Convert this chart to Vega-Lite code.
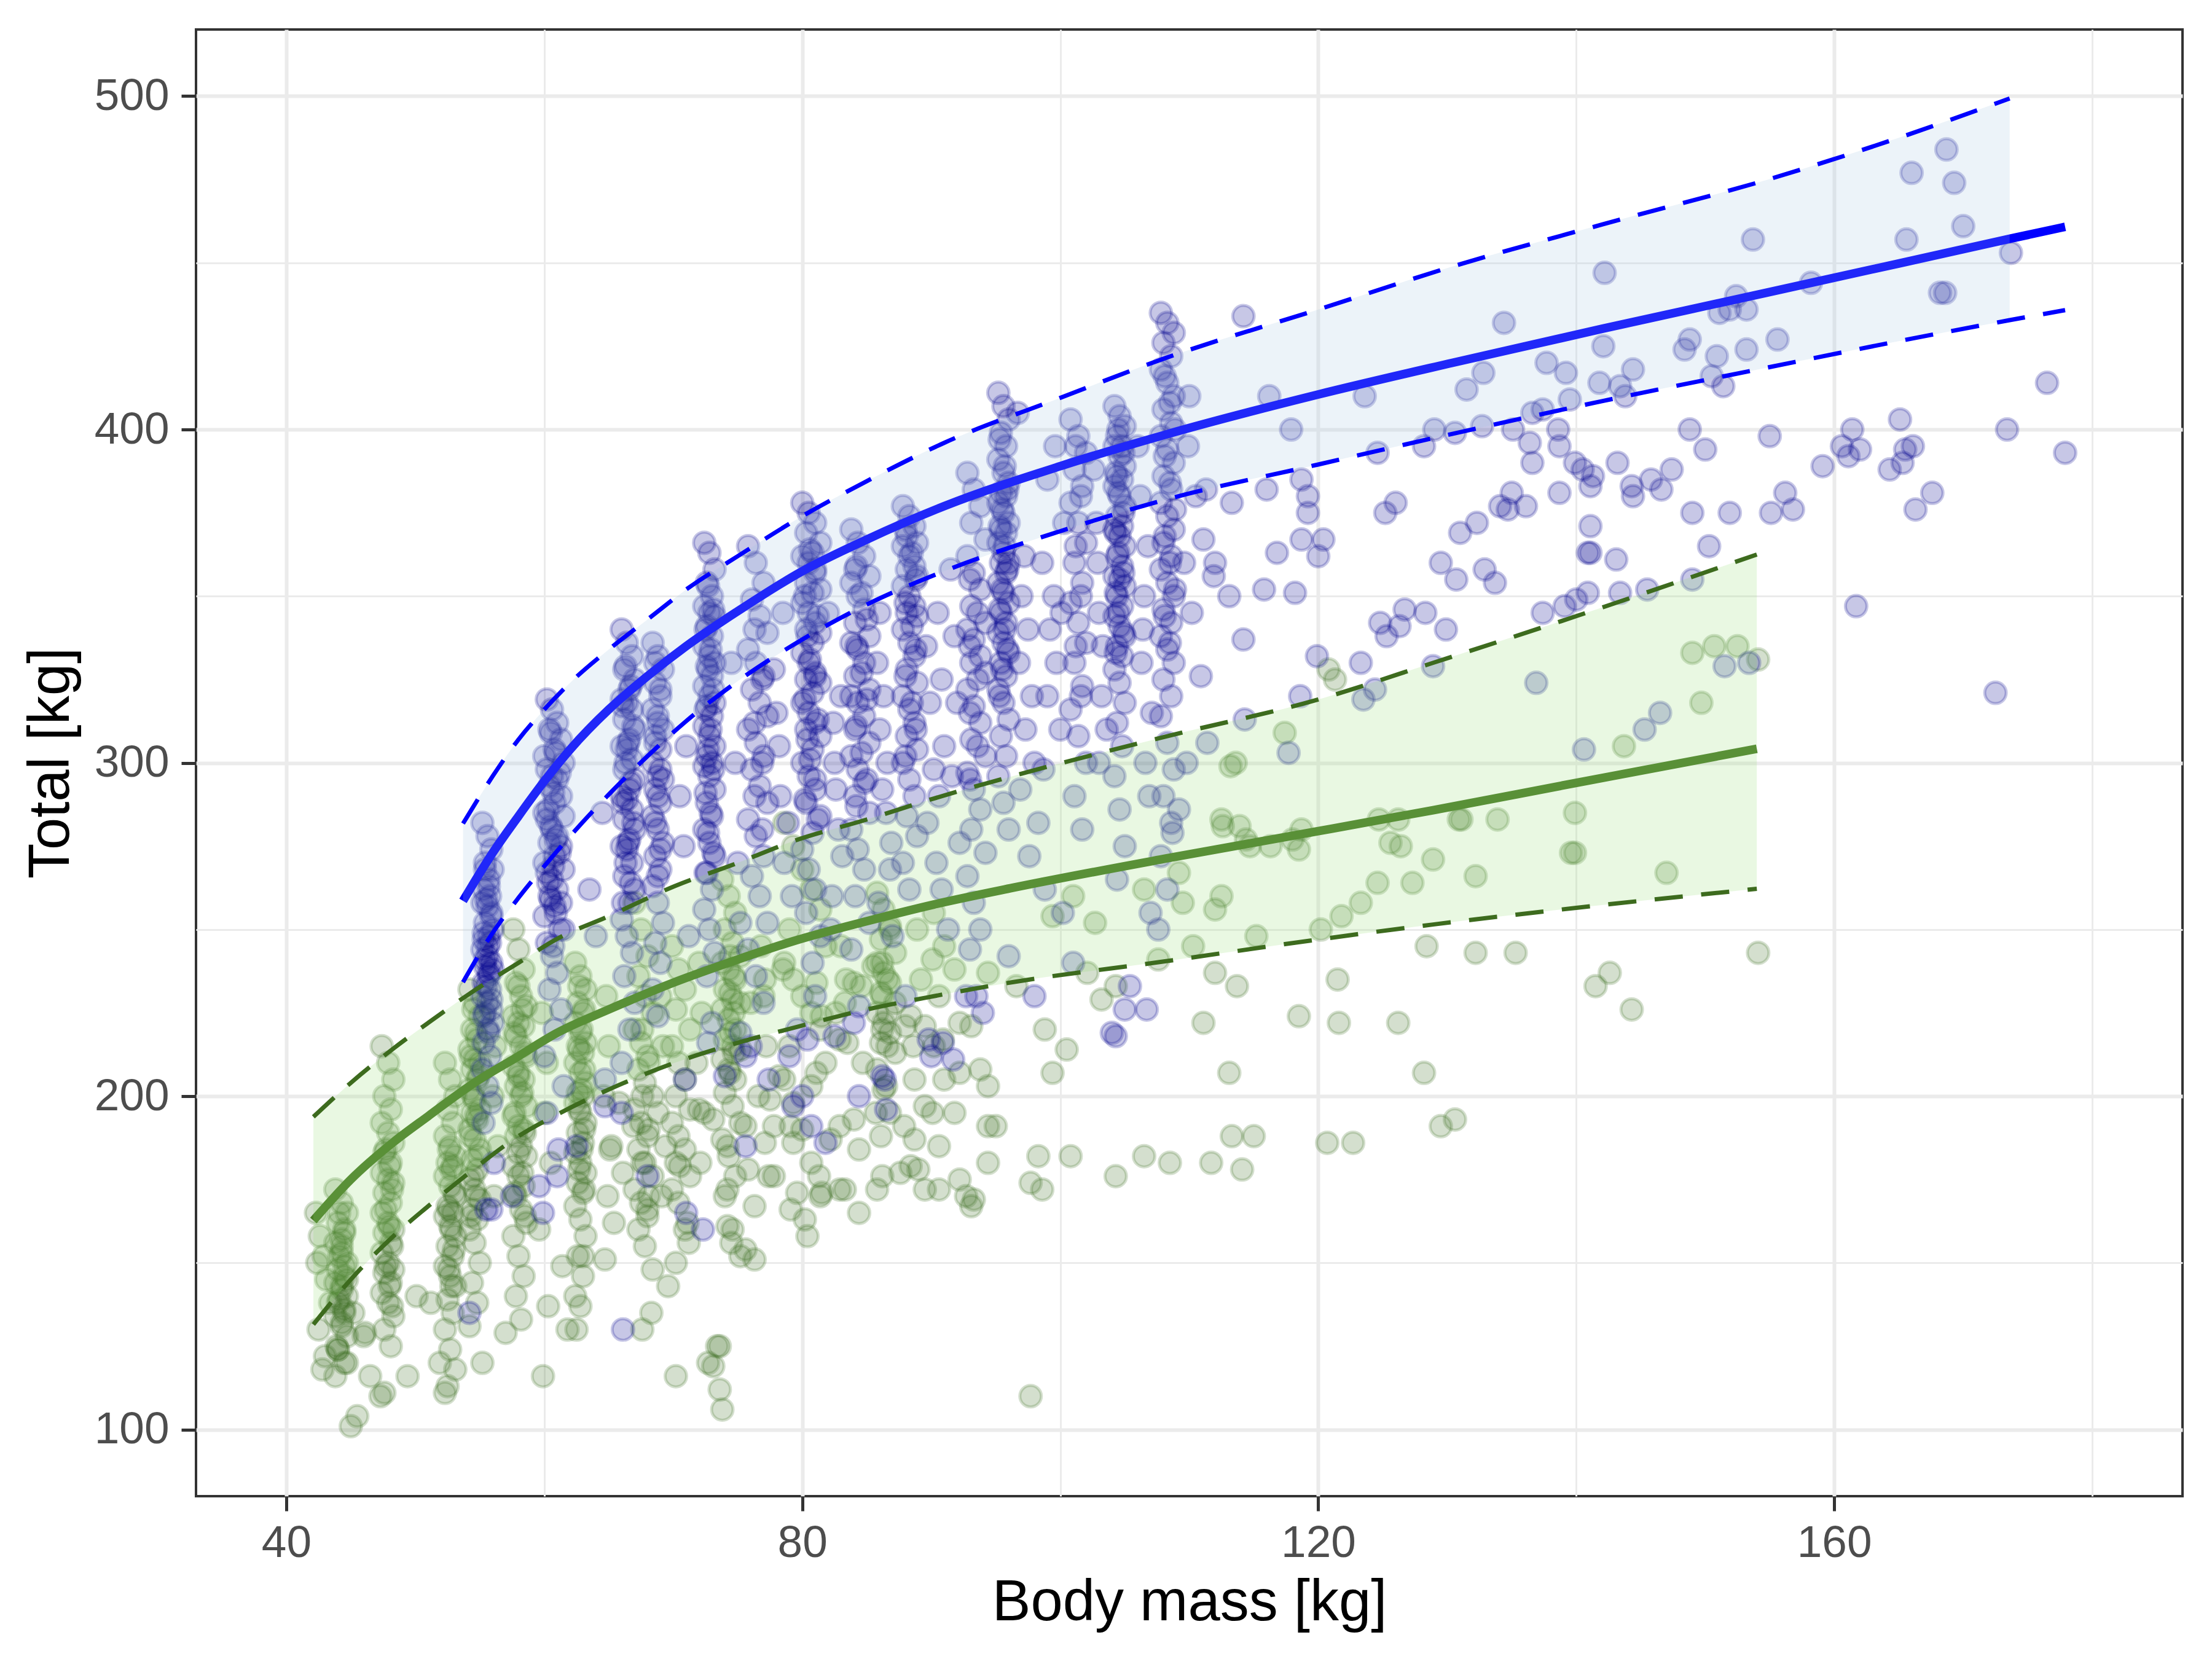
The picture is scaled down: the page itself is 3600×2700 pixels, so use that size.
{
  "$schema": "https://vega.github.io/schema/vega-lite/v6.json",
  "width": 3233,
  "height": 2387,
  "autosize": {"type": "none"},
  "padding": {"left": 319, "top": 48, "right": 48, "bottom": 265},
  "background": "white",
  "config": {
    "view": {"stroke": "#333333", "strokeWidth": 4},
    "font": "Liberation Sans",
    "axis": {
      "domain": false,
      "gridColor": "#EBEBEB",
      "tickColor": "#333333",
      "tickWidth": 5,
      "tickSize": 24,
      "labelFont": "Liberation Sans",
      "labelFontSize": 73,
      "labelColor": "#4D4D4D",
      "titleFont": "Liberation Sans",
      "titleFontSize": 94,
      "titleFontWeight": "normal",
      "titleColor": "#000000"
    }
  },
  "datasets": {
    "men": [
      {"mass":55.2,"total":282},{"mass":55.6,"total":278},{"mass":55.9,"total":274},{"mass":55.4,"total":270},{"mass":56.0,"total":268},{"mass":55.7,"total":265},{"mass":55.3,"total":262},{"mass":55.8,"total":260},{"mass":55.2,"total":258},{"mass":55.6,"total":257},{"mass":55.9,"total":255},{"mass":55.4,"total":252},{"mass":56.0,"total":250},{"mass":55.7,"total":248},{"mass":55.3,"total":247},{"mass":55.8,"total":246},{"mass":55.2,"total":244},{"mass":55.6,"total":242},{"mass":55.9,"total":240},{"mass":55.4,"total":239},{"mass":56.0,"total":238},{"mass":55.7,"total":236},{"mass":55.3,"total":234},{"mass":55.8,"total":232},{"mass":55.2,"total":230},{"mass":55.6,"total":228},{"mass":55.9,"total":226},{"mass":55.4,"total":225},{"mass":56.0,"total":222},{"mass":55.7,"total":219},{"mass":55.3,"total":216},{"mass":55.8,"total":212},{"mass":55.2,"total":208},{"mass":55.6,"total":203},{"mass":55.9,"total":198},{"mass":54.2,"total":135},{"mass":55.5,"total":166},{"mass":56.1,"total":180},{"mass":55.3,"total":192},
      {"mass":55.4,"total":268},{"mass":55.7,"total":263},{"mass":55.5,"total":259},{"mass":55.9,"total":254},{"mass":55.3,"total":249},{"mass":55.6,"total":245},{"mass":55.4,"total":241},{"mass":55.7,"total":237},{"mass":55.5,"total":233},{"mass":55.9,"total":229},{"mass":55.3,"total":224},{"mass":55.6,"total":220},
      {"mass":60.2,"total":319},{"mass":60.6,"total":316},{"mass":61.0,"total":312},{"mass":60.4,"total":310},{"mass":61.3,"total":307},{"mass":60.8,"total":304},{"mass":60.0,"total":302},{"mass":61.5,"total":300},{"mass":60.2,"total":298},{"mass":60.6,"total":296},{"mass":61.0,"total":295},{"mass":60.4,"total":293},{"mass":61.3,"total":290},{"mass":60.8,"total":288},{"mass":60.0,"total":285},{"mass":61.5,"total":284},{"mass":60.2,"total":283},{"mass":60.6,"total":280},{"mass":61.0,"total":278},{"mass":60.4,"total":276},{"mass":61.3,"total":275},{"mass":60.8,"total":272},{"mass":60.0,"total":270},{"mass":61.5,"total":268},{"mass":60.2,"total":267},{"mass":60.6,"total":265},{"mass":61.0,"total":262},{"mass":60.4,"total":260},{"mass":61.3,"total":258},{"mass":60.8,"total":257},{"mass":60.0,"total":254},{"mass":61.5,"total":250},{"mass":60.2,"total":246},{"mass":60.6,"total":242},{"mass":61.0,"total":237},{"mass":60.4,"total":232},{"mass":61.3,"total":226},{"mass":60.8,"total":220},{"mass":60.0,"total":212},{"mass":61.5,"total":203},{"mass":60.2,"total":195},
      {"mass":60.5,"total":309},{"mass":60.9,"total":303},{"mass":61.2,"total":297},{"mass":60.7,"total":291},{"mass":60.3,"total":286},{"mass":60.5,"total":281},{"mass":60.9,"total":277},{"mass":61.2,"total":273},{"mass":60.7,"total":269},{"mass":60.3,"total":264},{"mass":60.5,"total":259},{"mass":60.9,"total":255},{"mass":61.2,"total":250},{"mass":60.7,"total":245},
      {"mass":66.0,"total":340},{"mass":66.4,"total":336},{"mass":66.8,"total":332},{"mass":66.2,"total":328},{"mass":67.0,"total":325},{"mass":66.6,"total":322},{"mass":66.0,"total":319},{"mass":66.4,"total":318},{"mass":66.8,"total":316},{"mass":66.2,"total":313},{"mass":67.0,"total":310},{"mass":66.6,"total":307},{"mass":66.0,"total":305},{"mass":66.4,"total":304},{"mass":66.8,"total":301},{"mass":66.2,"total":298},{"mass":67.0,"total":295},{"mass":66.6,"total":292},{"mass":66.0,"total":290},{"mass":66.4,"total":289},{"mass":66.8,"total":286},{"mass":66.2,"total":283},{"mass":67.0,"total":280},{"mass":66.6,"total":277},{"mass":66.0,"total":275},{"mass":66.4,"total":274},{"mass":66.8,"total":270},{"mass":66.2,"total":266},{"mass":67.0,"total":262},{"mass":66.6,"total":258},{"mass":66.0,"total":253},{"mass":66.4,"total":248},{"mass":66.8,"total":243},{"mass":66.2,"total":236},{"mass":67.0,"total":228},{"mass":66.6,"total":220},{"mass":66.0,"total":210},
      {"mass":66.3,"total":329},{"mass":66.7,"total":323},{"mass":66.1,"total":317},{"mass":66.9,"total":311},{"mass":66.5,"total":306},{"mass":66.3,"total":300},{"mass":66.7,"total":294},{"mass":66.1,"total":288},{"mass":66.9,"total":282},{"mass":66.5,"total":276},{"mass":66.3,"total":270},{"mass":66.7,"total":264},{"mass":66.1,"total":258},
      {"mass":68.4,"total":336},{"mass":68.8,"total":332},{"mass":69.2,"total":328},{"mass":68.6,"total":324},{"mass":69.0,"total":320},{"mass":68.4,"total":316},{"mass":68.8,"total":312},{"mass":69.2,"total":310},{"mass":68.6,"total":308},{"mass":69.0,"total":304},{"mass":68.4,"total":300},{"mass":68.8,"total":296},{"mass":69.2,"total":295},{"mass":68.6,"total":292},{"mass":69.0,"total":288},{"mass":68.4,"total":284},{"mass":68.8,"total":280},{"mass":69.2,"total":276},{"mass":68.6,"total":272},{"mass":69.0,"total":268},{"mass":68.4,"total":263},{"mass":68.8,"total":258},{"mass":69.2,"total":252},{"mass":68.6,"total":246},{"mass":69.0,"total":240},{"mass":68.4,"total":232},{"mass":68.8,"total":224},
      {"mass":68.6,"total":330},{"mass":69.0,"total":322},{"mass":68.8,"total":314},{"mass":68.6,"total":306},{"mass":69.0,"total":298},{"mass":68.8,"total":290},{"mass":68.6,"total":282},{"mass":69.0,"total":274},{"mass":68.8,"total":266},
      {"mass":72.4,"total":366},{"mass":72.8,"total":363},{"mass":73.2,"total":358},{"mass":72.6,"total":354},{"mass":73.0,"total":350},{"mass":72.4,"total":347},{"mass":72.8,"total":345},{"mass":73.2,"total":344},{"mass":72.6,"total":341},{"mass":73.0,"total":338},{"mass":72.4,"total":335},{"mass":72.8,"total":332},{"mass":73.2,"total":330},{"mass":72.6,"total":329},{"mass":73.0,"total":326},{"mass":72.4,"total":323},{"mass":72.8,"total":320},{"mass":73.2,"total":318},{"mass":72.6,"total":317},{"mass":73.0,"total":314},{"mass":72.4,"total":311},{"mass":72.8,"total":308},{"mass":73.2,"total":305},{"mass":72.6,"total":302},{"mass":73.0,"total":300},{"mass":72.4,"total":299},{"mass":72.8,"total":296},{"mass":73.2,"total":292},{"mass":72.6,"total":288},{"mass":73.0,"total":284},{"mass":72.4,"total":280},{"mass":72.8,"total":276},{"mass":73.2,"total":272},{"mass":72.6,"total":267},{"mass":73.0,"total":262},{"mass":72.4,"total":256},{"mass":72.8,"total":250},{"mass":73.2,"total":243},{"mass":72.6,"total":236},
      {"mass":72.7,"total":353},{"mass":73.1,"total":346},{"mass":72.5,"total":340},{"mass":72.9,"total":334},{"mass":72.7,"total":328},{"mass":73.1,"total":322},{"mass":72.5,"total":316},{"mass":72.9,"total":310},{"mass":72.7,"total":304},{"mass":73.1,"total":298},{"mass":72.5,"total":291},{"mass":72.9,"total":285},{"mass":72.7,"total":279},{"mass":73.1,"total":273},{"mass":72.5,"total":267},
      {"mass":75.8,"total":365},{"mass":76.4,"total":360},{"mass":77.0,"total":354},{"mass":76.1,"total":349},{"mass":76.7,"total":344},{"mass":77.3,"total":339},{"mass":75.8,"total":334},{"mass":76.4,"total":330},{"mass":77.0,"total":326},{"mass":76.1,"total":322},{"mass":76.7,"total":318},{"mass":77.3,"total":314},{"mass":75.8,"total":310},{"mass":76.4,"total":306},{"mass":77.0,"total":302},{"mass":76.1,"total":298},{"mass":76.7,"total":293},{"mass":77.3,"total":288},{"mass":75.8,"total":283},{"mass":76.4,"total":278},{"mass":77.0,"total":272},{"mass":76.1,"total":266},{"mass":76.7,"total":260},{"mass":77.3,"total":252},{"mass":75.8,"total":244},{"mass":76.4,"total":236},{"mass":77.0,"total":228},
      {"mass":76.3,"total":340},{"mass":76.9,"total":325},{"mass":76.3,"total":312},{"mass":76.9,"total":300},{"mass":76.3,"total":290},{"mass":76.9,"total":280},
      {"mass":80.0,"total":378},{"mass":80.5,"total":375},{"mass":81.0,"total":372},{"mass":80.3,"total":369},{"mass":81.4,"total":366},{"mass":80.8,"total":363},{"mass":80.0,"total":362},{"mass":80.5,"total":360},{"mass":81.0,"total":357},{"mass":80.3,"total":354},{"mass":81.4,"total":352},{"mass":80.8,"total":351},{"mass":80.0,"total":348},{"mass":80.5,"total":345},{"mass":81.0,"total":342},{"mass":80.3,"total":340},{"mass":81.4,"total":339},{"mass":80.8,"total":336},{"mass":80.0,"total":333},{"mass":80.5,"total":330},{"mass":81.0,"total":327},{"mass":80.3,"total":325},{"mass":81.4,"total":324},{"mass":80.8,"total":321},{"mass":80.0,"total":318},{"mass":80.5,"total":315},{"mass":81.0,"total":312},{"mass":80.3,"total":310},{"mass":81.4,"total":308},{"mass":80.8,"total":304},{"mass":80.0,"total":300},{"mass":80.5,"total":296},{"mass":81.0,"total":292},{"mass":80.3,"total":288},{"mass":81.4,"total":284},{"mass":80.8,"total":279},{"mass":80.0,"total":274},{"mass":80.5,"total":268},{"mass":81.0,"total":262},{"mass":80.3,"total":255},{"mass":81.4,"total":248},{"mass":80.8,"total":240},
      {"mass":80.6,"total":364},{"mass":81.0,"total":358},{"mass":80.2,"total":350},{"mass":81.2,"total":344},{"mass":80.4,"total":338},{"mass":80.6,"total":331},{"mass":81.0,"total":326},{"mass":80.2,"total":319},{"mass":81.2,"total":313},{"mass":80.4,"total":307},{"mass":80.6,"total":301},{"mass":81.0,"total":295},{"mass":80.2,"total":289},{"mass":81.2,"total":283},
      {"mass":83.8,"total":370},{"mass":84.3,"total":366},{"mass":84.8,"total":362},{"mass":84.1,"total":358},{"mass":85.2,"total":356},{"mass":83.8,"total":354},{"mass":84.3,"total":350},{"mass":84.8,"total":346},{"mass":84.1,"total":342},{"mass":85.2,"total":338},{"mass":83.8,"total":336},{"mass":84.3,"total":334},{"mass":84.8,"total":330},{"mass":84.1,"total":326},{"mass":85.2,"total":322},{"mass":83.8,"total":320},{"mass":84.3,"total":318},{"mass":84.8,"total":314},{"mass":84.1,"total":310},{"mass":85.2,"total":306},{"mass":83.8,"total":302},{"mass":84.3,"total":298},{"mass":84.8,"total":294},{"mass":84.1,"total":290},{"mass":85.2,"total":285},{"mass":83.8,"total":280},{"mass":84.3,"total":274},{"mass":84.8,"total":268},{"mass":84.1,"total":260},{"mass":85.2,"total":252},{"mass":83.8,"total":244},
      {"mass":84.2,"total":359},{"mass":84.6,"total":351},{"mass":85.0,"total":343},{"mass":84.2,"total":335},{"mass":84.6,"total":327},{"mass":85.0,"total":319},{"mass":84.2,"total":311},{"mass":84.6,"total":303},{"mass":85.0,"total":295},{"mass":84.2,"total":287},
      {"mass":87.8,"total":377},{"mass":88.3,"total":374},{"mass":88.7,"total":371},{"mass":88.1,"total":368},{"mass":88.9,"total":366},{"mass":87.8,"total":365},{"mass":88.3,"total":362},{"mass":88.7,"total":359},{"mass":88.1,"total":358},{"mass":88.9,"total":356},{"mass":87.8,"total":353},{"mass":88.3,"total":350},{"mass":88.7,"total":347},{"mass":88.1,"total":345},{"mass":88.9,"total":344},{"mass":87.8,"total":340},{"mass":88.3,"total":336},{"mass":88.7,"total":332},{"mass":88.1,"total":328},{"mass":88.9,"total":324},{"mass":87.8,"total":320},{"mass":88.3,"total":316},{"mass":88.7,"total":312},{"mass":88.1,"total":308},{"mass":88.9,"total":304},{"mass":87.8,"total":300},{"mass":88.3,"total":295},{"mass":88.7,"total":290},{"mass":88.1,"total":284},{"mass":88.9,"total":278},{"mass":87.8,"total":270},{"mass":88.3,"total":262},
      {"mass":88.0,"total":370},{"mass":88.5,"total":363},{"mass":88.8,"total":355},{"mass":88.0,"total":348},{"mass":88.5,"total":341},{"mass":88.8,"total":334},{"mass":88.0,"total":326},{"mass":88.5,"total":318},{"mass":88.8,"total":310},{"mass":88.0,"total":302},
      {"mass":92.8,"total":387},{"mass":93.3,"total":382},{"mass":93.8,"total":377},{"mass":93.1,"total":372},{"mass":94.2,"total":367},{"mass":92.8,"total":362},{"mass":93.3,"total":357},{"mass":93.8,"total":352},{"mass":93.1,"total":347},{"mass":94.2,"total":342},{"mass":92.8,"total":340},{"mass":93.3,"total":337},{"mass":93.8,"total":332},{"mass":93.1,"total":330},{"mass":94.2,"total":327},{"mass":92.8,"total":322},{"mass":93.3,"total":317},{"mass":93.8,"total":312},{"mass":93.1,"total":307},{"mass":94.2,"total":302},{"mass":92.8,"total":297},{"mass":93.3,"total":292},{"mass":93.8,"total":286},{"mass":93.1,"total":280},{"mass":94.2,"total":273},{"mass":92.8,"total":266},{"mass":93.3,"total":258},{"mass":93.8,"total":250},
      {"mass":93.0,"total":355},{"mass":93.6,"total":345},{"mass":93.0,"total":335},{"mass":93.6,"total":325},{"mass":93.0,"total":315},{"mass":93.6,"total":305},{"mass":93.0,"total":295},
      {"mass":95.2,"total":411},{"mass":95.6,"total":407},{"mass":96.0,"total":403},{"mass":95.4,"total":399},{"mass":95.8,"total":395},{"mass":95.2,"total":391},{"mass":95.6,"total":387},{"mass":96.0,"total":384},{"mass":95.4,"total":381},{"mass":95.8,"total":380},{"mass":95.2,"total":378},{"mass":95.6,"total":375},{"mass":96.0,"total":372},{"mass":95.4,"total":370},{"mass":95.8,"total":369},{"mass":95.2,"total":366},{"mass":95.6,"total":363},{"mass":96.0,"total":360},{"mass":95.4,"total":360},{"mass":95.8,"total":357},{"mass":95.2,"total":354},{"mass":95.6,"total":351},{"mass":96.0,"total":348},{"mass":95.4,"total":345},{"mass":95.8,"total":342},{"mass":95.2,"total":339},{"mass":95.6,"total":336},{"mass":96.0,"total":333},{"mass":95.4,"total":330},{"mass":95.8,"total":326},{"mass":95.2,"total":322},{"mass":95.6,"total":318},{"mass":96.0,"total":313},{"mass":95.4,"total":308},{"mass":95.8,"total":302},{"mass":95.2,"total":296},{"mass":95.6,"total":288},{"mass":96.0,"total":280},
      {"mass":95.3,"total":397},{"mass":95.7,"total":389},{"mass":95.9,"total":382},{"mass":95.5,"total":376},{"mass":95.3,"total":371},{"mass":95.7,"total":365},{"mass":95.9,"total":358},{"mass":95.5,"total":352},{"mass":95.3,"total":346},{"mass":95.7,"total":340},{"mass":95.9,"total":334},{"mass":95.5,"total":328},{"mass":95.3,"total":320},
      {"mass":100.8,"total":403},{"mass":101.4,"total":398},{"mass":102.0,"total":393},{"mass":101.1,"total":388},{"mass":101.7,"total":383},{"mass":100.8,"total":378},{"mass":101.4,"total":372},{"mass":102.0,"total":366},{"mass":101.1,"total":360},{"mass":101.7,"total":354},{"mass":100.8,"total":348},{"mass":101.4,"total":342},{"mass":102.0,"total":336},{"mass":101.1,"total":330},{"mass":101.7,"total":323},{"mass":100.8,"total":316},{"mass":101.4,"total":308},{"mass":102.0,"total":300},{"mass":101.1,"total":290},{"mass":101.7,"total":280},
      {"mass":101.2,"total":395},{"mass":101.6,"total":380},{"mass":101.2,"total":365},{"mass":101.6,"total":350},{"mass":101.2,"total":335},{"mass":101.6,"total":320},
      {"mass":104.2,"total":407},{"mass":104.6,"total":404},{"mass":105.0,"total":401},{"mass":104.4,"total":398},{"mass":104.8,"total":395},{"mass":104.2,"total":395},{"mass":104.6,"total":392},{"mass":105.0,"total":389},{"mass":104.4,"total":386},{"mass":104.8,"total":385},{"mass":104.2,"total":383},{"mass":104.6,"total":380},{"mass":105.0,"total":377},{"mass":104.4,"total":374},{"mass":104.8,"total":371},{"mass":104.2,"total":370},{"mass":104.6,"total":368},{"mass":105.0,"total":365},{"mass":104.4,"total":362},{"mass":104.8,"total":359},{"mass":104.2,"total":356},{"mass":104.6,"total":355},{"mass":105.0,"total":353},{"mass":104.4,"total":350},{"mass":104.8,"total":347},{"mass":104.2,"total":344},{"mass":104.6,"total":341},{"mass":105.0,"total":338},{"mass":104.4,"total":335},{"mass":104.8,"total":332},{"mass":104.2,"total":328},{"mass":104.6,"total":324},{"mass":105.0,"total":318},{"mass":104.4,"total":312},{"mass":104.8,"total":305},{"mass":104.2,"total":296},{"mass":104.6,"total":286},{"mass":105.0,"total":275},{"mass":104.4,"total":265},
      {"mass":104.5,"total":400},{"mass":104.9,"total":393},{"mass":104.3,"total":387},{"mass":104.5,"total":381},{"mass":104.9,"total":375},{"mass":104.3,"total":369},{"mass":104.5,"total":363},{"mass":104.9,"total":357},{"mass":104.3,"total":351},{"mass":104.5,"total":345},{"mass":104.9,"total":339},{"mass":104.3,"total":333},
      {"mass":107.8,"total":435},{"mass":108.3,"total":432},{"mass":108.8,"total":429},{"mass":108.0,"total":426},{"mass":108.6,"total":422},{"mass":107.8,"total":418},{"mass":108.3,"total":414},{"mass":108.8,"total":410},{"mass":108.0,"total":406},{"mass":108.6,"total":402},{"mass":107.8,"total":398},{"mass":108.3,"total":394},{"mass":108.8,"total":390},{"mass":108.0,"total":386},{"mass":108.6,"total":382},{"mass":107.8,"total":378},{"mass":108.3,"total":374},{"mass":108.8,"total":370},{"mass":108.0,"total":366},{"mass":108.6,"total":362},{"mass":107.8,"total":358},{"mass":108.3,"total":354},{"mass":108.8,"total":350},{"mass":108.0,"total":346},{"mass":108.6,"total":342},{"mass":107.8,"total":338},{"mass":108.3,"total":334},{"mass":108.8,"total":330},{"mass":108.0,"total":325},{"mass":108.6,"total":320},{"mass":107.8,"total":314},{"mass":108.3,"total":306},{"mass":108.8,"total":298},{"mass":108.0,"total":290},{"mass":108.6,"total":282},{"mass":107.8,"total":272},{"mass":108.3,"total":262},
      {"mass":108.1,"total":416},{"mass":108.5,"total":408},{"mass":108.9,"total":400},{"mass":108.1,"total":392},{"mass":108.5,"total":384},{"mass":108.9,"total":376},{"mass":108.1,"total":368},{"mass":108.5,"total":360},{"mass":108.9,"total":352},{"mass":108.1,"total":344},{"mass":108.5,"total":336},
      {"mass":77.8,"total":328},{"mass":78.2,"total":305},{"mass":78.9,"total":282},{"mass":79.2,"total":260},{"mass":82.0,"total":345},{"mass":82.4,"total":312},{"mass":82.6,"total":292},{"mass":83.1,"total":272},{"mass":82.2,"total":250},{"mass":85.8,"total":330},{"mass":86.0,"total":310},{"mass":86.2,"total":292},{"mass":86.9,"total":276},{"mass":85.9,"total":258},{"mass":87.0,"total":248},{"mass":89.6,"total":335},{"mass":89.9,"total":318},{"mass":90.2,"total":298},{"mass":89.7,"total":282},{"mass":90.8,"total":262},{"mass":91.3,"total":250},{"mass":91.8,"total":338},{"mass":92.0,"total":318},{"mass":91.6,"total":296},{"mass":92.2,"total":276},{"mass":97.0,"total":350},{"mass":96.8,"total":330},{"mass":97.3,"total":310},{"mass":96.9,"total":292},{"mass":97.6,"total":272},{"mass":98.6,"total":360},{"mass":99.2,"total":340},{"mass":99.0,"total":320},{"mass":98.7,"total":298},{"mass":100.3,"total":372},{"mass":100.1,"total":345},{"mass":102.6,"total":388},{"mass":102.9,"total":360},{"mass":103.3,"total":335},{"mass":103.6,"total":310},{"mass":106.0,"total":395},{"mass":106.8,"total":365},{"mass":106.4,"total":340},{"mass":107.1,"total":315},{"mass":106.9,"total":290},{"mass":109.6,"total":360},{"mass":110.2,"total":345},{"mass":109.8,"total":300},{"mass":110.5,"total":380},{"mass":110.0,"total":410},
      {"mass":63.5,"total":262},{"mass":64.0,"total":248},{"mass":64.5,"total":285},{"mass":70.5,"total":290},{"mass":70.8,"total":275},{"mass":71.0,"total":305},{"mass":71.2,"total":248},{"mass":74.5,"total":330},{"mass":74.8,"total":300},{"mass":75.0,"total":270},{"mass":75.2,"total":252},{"mass":78.0,"total":315},{"mass":78.3,"total":290},{"mass":78.6,"total":270},{"mass":78.5,"total":345},{"mass":82.5,"total":300},{"mass":82.8,"total":280},{"mass":83.0,"total":320},{"mass":82.3,"total":260},{"mass":86.3,"total":320},{"mass":86.6,"total":300},{"mass":86.5,"total":285},{"mass":86.0,"total":345},{"mass":86.8,"total":268},{"mass":90.5,"total":345},{"mass":90.8,"total":325},{"mass":91.0,"total":305},{"mass":90.6,"total":290},{"mass":90.4,"total":270},{"mass":91.5,"total":358},{"mass":97.5,"total":340},{"mass":97.8,"total":320},{"mass":98.0,"total":300},{"mass":98.3,"total":282},{"mass":97.2,"total":362},{"mass":99.0,"total":385},{"mass":99.5,"total":350},{"mass":99.7,"total":330},{"mass":100.0,"total":310},{"mass":98.8,"total":262},{"mass":100.2,"total":255},{"mass":103.0,"total":345},{"mass":103.2,"total":320},{"mass":103.0,"total":300},{"mass":102.8,"total":372},{"mass":106.5,"total":350},{"mass":106.3,"total":330},{"mass":106.6,"total":300},{"mass":106.2,"total":380},{"mass":107.0,"total":255},{"mass":99.6,"total":395},{"mass":96.7,"total":405},{"mass":98.0,"total":230},{"mass":101.0,"total":240},{"mass":88.0,"total":230},{"mass":84.0,"total":222},{"mass":81.0,"total":230},{"mass":79.0,"total":212},{"mass":76.0,"total":215},{"mass":73.0,"total":222},{"mass":94.0,"total":225},{"mass":93.0,"total":244},{"mass":80.0,"total":200},{"mass":86.4,"total":205},{"mass":90.0,"total":212},{"mass":74.0,"total":206},{"mass":66.0,"total":195},{"mass":61.0,"total":176},{"mass":57.5,"total":170},{"mass":62.5,"total":185},{"mass":68.0,"total":176},{"mass":71.0,"total":165},{"mass":75.6,"total":185},{"mass":66.1,"total":130},{"mass":104.0,"total":219},{"mass":96.0,"total":242},{"mass":105.0,"total":226},{"mass":72.3,"total":160},{"mass":55.9,"total":166},{"mass":81.8,"total":186},{"mass":80.7,"total":191},{"mass":79.3,"total":197},{"mass":84.4,"total":200},{"mass":86.5,"total":196},{"mass":86.2,"total":206},{"mass":91.7,"total":211},{"mass":92.7,"total":230},{"mass":93.5,"total":230},{"mass":80.4,"total":217},{"mass":77.4,"total":205},{"mass":75.6,"total":212},{"mass":75.2,"total":219},{"mass":79.6,"total":220},{"mass":82.5,"total":218},{"mass":84.4,"total":227},{"mass":89.8,"total":217},{"mass":90.9,"total":216},{"mass":70.9,"total":205},{"mass":64.7,"total":197},{"mass":59.6,"total":173},{"mass":59.9,"total":165},{"mass":61.1,"total":184},{"mass":64.7,"total":205},{"mass":72.7,"total":216},{"mass":108.7,"total":279},{"mass":109.2,"total":286},{"mass":107.6,"total":250},{"mass":105.4,"total":233},{"mass":104.3,"total":218},{"mass":106.7,"total":226},
      {"mass":114.2,"total":434},{"mass":116.2,"total":410},{"mass":117.9,"total":400},{"mass":123.6,"total":410},{"mass":109.9,"total":395},{"mass":111.3,"total":382},{"mass":113.3,"total":378},{"mass":116.0,"total":382},{"mass":118.7,"total":385},{"mass":119.2,"total":380},{"mass":119.2,"total":375},{"mass":118.7,"total":367},{"mass":120.4,"total":367},{"mass":120.0,"total":362},{"mass":116.8,"total":363},{"mass":111.1,"total":367},{"mass":112.0,"total":360},{"mass":111.9,"total":356},{"mass":113.1,"total":350},{"mass":115.8,"total":352},{"mass":118.2,"total":351},{"mass":110.9,"total":326},{"mass":114.2,"total":337},{"mass":119.9,"total":332},{"mass":123.3,"total":330},{"mass":124.8,"total":342},{"mass":125.3,"total":338},{"mass":126.3,"total":341},{"mass":126.7,"total":346},{"mass":128.3,"total":345},{"mass":129.9,"total":340},{"mass":129.5,"total":360},{"mass":130.7,"total":355},{"mass":132.9,"total":358},{"mass":133.7,"total":354},{"mass":126.0,"total":378},{"mass":125.2,"total":375},{"mass":124.6,"total":393},{"mass":128.2,"total":395},{"mass":129.0,"total":400},{"mass":130.6,"total":399},{"mass":131.5,"total":412},{"mass":132.8,"total":417},{"mass":134.4,"total":432},{"mass":132.7,"total":401},{"mass":135.1,"total":400},{"mass":136.4,"total":396},{"mass":136.6,"total":390},{"mass":138.7,"total":395},{"mass":138.6,"total":400},{"mass":136.6,"total":405},{"mass":137.4,"total":406},{"mass":137.7,"total":420},{"mass":139.2,"total":417},{"mass":139.5,"total":409},{"mass":142.1,"total":425},{"mass":142.2,"total":447},{"mass":141.8,"total":414},{"mass":143.4,"total":413},{"mass":144.4,"total":418},{"mass":143.8,"total":410},{"mass":131.0,"total":369},{"mass":132.3,"total":372},{"mass":134.1,"total":377},{"mass":134.7,"total":376},{"mass":135.0,"total":381},{"mass":136.1,"total":377},{"mass":138.7,"total":381},{"mass":139.9,"total":390},{"mass":140.5,"total":388},{"mass":141.3,"total":386},{"mass":141.1,"total":383},{"mass":143.2,"total":390},{"mass":144.3,"total":383},{"mass":144.4,"total":380},{"mass":145.8,"total":385},{"mass":146.6,"total":382},{"mass":147.4,"total":388},{"mass":141.1,"total":371},{"mass":141.1,"total":363},{"mass":140.9,"total":363},{"mass":143.1,"total":361},{"mass":137.4,"total":345},{"mass":139.1,"total":347},{"mass":140.0,"total":349},{"mass":140.9,"total":351},{"mass":143.4,"total":351},{"mass":145.5,"total":352},{"mass":149.0,"total":355},{"mass":150.3,"total":365},{"mass":149.0,"total":375},{"mass":151.9,"total":375},{"mass":148.8,"total":400},{"mass":150.0,"total":394},{"mass":150.5,"total":416},{"mass":151.4,"total":413},{"mass":148.4,"total":424},{"mass":148.8,"total":427},{"mass":150.9,"total":422},{"mass":153.2,"total":424},{"mass":155.6,"total":427},{"mass":151.1,"total":435},{"mass":151.9,"total":436},{"mass":153.2,"total":436},{"mass":152.4,"total":440},{"mass":153.7,"total":457},{"mass":155.0,"total":398},{"mass":155.1,"total":375},{"mass":156.2,"total":381},{"mass":156.8,"total":376},{"mass":158.2,"total":444},{"mass":159.1,"total":389},{"mass":160.6,"total":395},{"mass":161.4,"total":400},{"mass":161.1,"total":392},{"mass":162.0,"total":394},{"mass":161.7,"total":347},{"mass":164.3,"total":388},{"mass":165.1,"total":403},{"mass":165.3,"total":390},{"mass":165.5,"total":394},{"mass":166.1,"total":395},{"mass":165.6,"total":457},{"mass":166.0,"total":477},{"mass":167.6,"total":381},{"mass":166.3,"total":376},{"mass":168.2,"total":441},{"mass":168.6,"total":441},{"mass":168.7,"total":484},{"mass":169.3,"total":474},{"mass":170.0,"total":461},{"mass":172.5,"total":321},{"mass":173.7,"total":453},{"mass":173.4,"total":400},{"mass":176.5,"total":414},{"mass":177.9,"total":393},
      {"mass":118.6,"total":320},{"mass":111.4,"total":306},{"mass":117.7,"total":303},{"mass":123.5,"total":319},{"mass":124.4,"total":322},{"mass":128.9,"total":329},{"mass":136.9,"total":324},{"mass":140.6,"total":304},{"mass":145.3,"total":310},{"mass":146.5,"total":315},{"mass":151.5,"total":329},{"mass":153.4,"total":330},{"mass":114.3,"total":313}
    ],
    "women": [
      {"mass":43.8,"total":172},{"mass":44.3,"total":168},{"mass":44.7,"total":165},{"mass":44.0,"total":162},{"mass":44.5,"total":159},{"mass":43.8,"total":156},{"mass":44.3,"total":153},{"mass":44.7,"total":150},{"mass":44.0,"total":148},{"mass":44.5,"total":146},{"mass":43.8,"total":144},{"mass":44.3,"total":142},{"mass":44.7,"total":140},{"mass":44.0,"total":138},{"mass":44.5,"total":136},{"mass":43.8,"total":134},{"mass":44.3,"total":131},{"mass":44.7,"total":128},{"mass":44.0,"total":124},{"mass":44.5,"total":120},{"mass":43.8,"total":116},{"mass":44.3,"total":155},{"mass":44.7,"total":145},
      {"mass":44.1,"total":165},{"mass":44.5,"total":160},{"mass":44.3,"total":157},{"mass":44.1,"total":152},{"mass":44.5,"total":149},{"mass":44.3,"total":143},{"mass":44.1,"total":139},{"mass":44.5,"total":135},{"mass":44.3,"total":132},
      {"mass":42.3,"total":165},{"mass":42.6,"total":158},{"mass":42.9,"total":152},{"mass":43.1,"total":145},{"mass":43.4,"total":138},{"mass":42.5,"total":130},{"mass":43.0,"total":122},{"mass":42.8,"total":118},{"mass":42.4,"total":150},{"mass":45.0,"total":101},{"mass":45.5,"total":104},{"mass":46.5,"total":116},{"mass":47.3,"total":110},{"mass":44.0,"total":124},{"mass":46.0,"total":128},{"mass":45.2,"total":135},
      {"mass":47.4,"total":215},{"mass":47.9,"total":210},{"mass":48.3,"total":205},{"mass":47.6,"total":200},{"mass":48.1,"total":196},{"mass":47.4,"total":192},{"mass":47.9,"total":189},{"mass":48.3,"total":186},{"mass":47.6,"total":183},{"mass":48.1,"total":180},{"mass":47.4,"total":177},{"mass":47.9,"total":175},{"mass":48.3,"total":174},{"mass":47.6,"total":171},{"mass":48.1,"total":168},{"mass":47.4,"total":165},{"mass":47.9,"total":162},{"mass":48.3,"total":160},{"mass":47.6,"total":159},{"mass":48.1,"total":156},{"mass":47.4,"total":153},{"mass":47.9,"total":150},{"mass":48.3,"total":148},{"mass":47.6,"total":147},{"mass":48.1,"total":144},{"mass":47.4,"total":141},{"mass":47.9,"total":138},{"mass":48.3,"total":134},{"mass":47.6,"total":130},{"mass":48.1,"total":125},
      {"mass":47.7,"total":184},{"mass":48.0,"total":179},{"mass":48.2,"total":172},{"mass":47.7,"total":166},{"mass":48.0,"total":161},{"mass":48.2,"total":155},{"mass":47.7,"total":149},{"mass":48.0,"total":143},{"mass":48.2,"total":137},
      {"mass":52.3,"total":210},{"mass":52.7,"total":205},{"mass":53.1,"total":200},{"mass":52.5,"total":196},{"mass":52.9,"total":192},{"mass":52.3,"total":188},{"mass":52.7,"total":185},{"mass":53.1,"total":182},{"mass":52.5,"total":180},{"mass":52.9,"total":179},{"mass":52.3,"total":176},{"mass":52.7,"total":173},{"mass":53.1,"total":170},{"mass":52.5,"total":167},{"mass":52.9,"total":165},{"mass":52.3,"total":164},{"mass":52.7,"total":161},{"mass":53.1,"total":158},{"mass":52.5,"total":155},{"mass":52.9,"total":152},{"mass":52.3,"total":149},{"mass":52.7,"total":146},{"mass":53.1,"total":143},{"mass":52.5,"total":139},{"mass":52.9,"total":135},{"mass":52.3,"total":130},{"mass":52.7,"total":124},{"mass":53.1,"total":118},{"mass":52.5,"total":113},
      {"mass":52.6,"total":184},{"mass":52.8,"total":178},{"mass":53.0,"total":171},{"mass":52.6,"total":166},{"mass":52.8,"total":160},{"mass":53.0,"total":154},{"mass":52.6,"total":148},{"mass":52.8,"total":143},
      {"mass":54.2,"total":232},{"mass":54.6,"total":228},{"mass":55.0,"total":224},{"mass":54.4,"total":220},{"mass":54.8,"total":217},{"mass":54.2,"total":214},{"mass":54.6,"total":211},{"mass":55.0,"total":210},{"mass":54.4,"total":208},{"mass":54.8,"total":205},{"mass":54.2,"total":202},{"mass":54.6,"total":199},{"mass":55.0,"total":196},{"mass":54.4,"total":195},{"mass":54.8,"total":193},{"mass":54.2,"total":190},{"mass":54.6,"total":187},{"mass":55.0,"total":184},{"mass":54.4,"total":181},{"mass":54.8,"total":178},{"mass":54.2,"total":175},{"mass":54.6,"total":172},{"mass":55.0,"total":169},{"mass":54.4,"total":166},{"mass":54.8,"total":163},{"mass":54.2,"total":160},{"mass":54.6,"total":156},{"mass":55.0,"total":150},{"mass":54.4,"total":144},{"mass":54.8,"total":138},{"mass":54.2,"total":131},
      {"mass":54.5,"total":226},{"mass":54.7,"total":219},{"mass":54.3,"total":212},{"mass":54.9,"total":206},{"mass":54.5,"total":200},{"mass":54.7,"total":194},{"mass":54.3,"total":188},{"mass":54.9,"total":182},{"mass":54.5,"total":176},{"mass":54.7,"total":170},{"mass":54.3,"total":164},
      {"mass":57.6,"total":250},{"mass":58.0,"total":244},{"mass":58.4,"total":238},{"mass":57.8,"total":234},{"mass":58.2,"total":230},{"mass":58.6,"total":227},{"mass":57.6,"total":224},{"mass":58.0,"total":222},{"mass":58.4,"total":221},{"mass":57.8,"total":218},{"mass":58.2,"total":215},{"mass":58.6,"total":212},{"mass":57.6,"total":209},{"mass":58.0,"total":206},{"mass":58.4,"total":205},{"mass":57.8,"total":203},{"mass":58.2,"total":200},{"mass":58.6,"total":197},{"mass":57.6,"total":194},{"mass":58.0,"total":191},{"mass":58.4,"total":190},{"mass":57.8,"total":188},{"mass":58.2,"total":185},{"mass":58.6,"total":182},{"mass":57.6,"total":179},{"mass":58.0,"total":176},{"mass":58.4,"total":173},{"mass":57.8,"total":170},{"mass":58.2,"total":166},{"mass":58.6,"total":162},{"mass":57.6,"total":158},{"mass":58.0,"total":152},{"mass":58.4,"total":146},{"mass":57.8,"total":140},{"mass":58.2,"total":133},
      {"mass":58.0,"total":233},{"mass":58.3,"total":226},{"mass":57.7,"total":219},{"mass":58.5,"total":213},{"mass":58.0,"total":207},{"mass":58.3,"total":201},{"mass":57.7,"total":195},{"mass":58.5,"total":189},{"mass":58.0,"total":183},{"mass":58.3,"total":177},{"mass":57.7,"total":171},{"mass":58.5,"total":164},
      {"mass":62.4,"total":240},{"mass":62.8,"total":236},{"mass":63.2,"total":232},{"mass":62.6,"total":228},{"mass":63.0,"total":225},{"mass":62.4,"total":222},{"mass":62.8,"total":219},{"mass":63.2,"total":216},{"mass":62.6,"total":215},{"mass":63.0,"total":213},{"mass":62.4,"total":210},{"mass":62.8,"total":207},{"mass":63.2,"total":204},{"mass":62.6,"total":201},{"mass":63.0,"total":200},{"mass":62.4,"total":198},{"mass":62.8,"total":195},{"mass":63.2,"total":192},{"mass":62.6,"total":189},{"mass":63.0,"total":186},{"mass":62.4,"total":183},{"mass":62.8,"total":180},{"mass":63.2,"total":177},{"mass":62.6,"total":174},{"mass":63.0,"total":171},{"mass":62.4,"total":167},{"mass":62.8,"total":163},{"mass":63.2,"total":158},{"mass":62.6,"total":152},{"mass":63.0,"total":146},{"mass":62.4,"total":140},{"mass":62.8,"total":137},
      {"mass":62.7,"total":233},{"mass":63.1,"total":226},{"mass":62.9,"total":220},{"mass":62.7,"total":214},{"mass":63.1,"total":208},{"mass":62.9,"total":202},{"mass":62.7,"total":196},{"mass":63.1,"total":190},{"mass":62.9,"total":184},{"mass":62.7,"total":178},{"mass":63.1,"total":172},
      {"mass":67.0,"total":258},{"mass":67.5,"total":250},{"mass":68.0,"total":242},{"mass":67.3,"total":236},{"mass":67.8,"total":230},{"mass":68.4,"total":225},{"mass":67.0,"total":220},{"mass":67.5,"total":216},{"mass":68.0,"total":212},{"mass":67.3,"total":208},{"mass":67.8,"total":204},{"mass":68.4,"total":200},{"mass":67.0,"total":196},{"mass":67.5,"total":192},{"mass":68.0,"total":188},{"mass":67.3,"total":184},{"mass":67.8,"total":180},{"mass":68.4,"total":176},{"mass":67.0,"total":172},{"mass":67.5,"total":168},{"mass":68.0,"total":164},{"mass":67.3,"total":160},{"mass":67.8,"total":155},{"mass":68.4,"total":148},
      {"mass":67.6,"total":220},{"mass":68.1,"total":210},{"mass":67.6,"total":200},{"mass":68.1,"total":190},{"mass":67.6,"total":180},{"mass":68.1,"total":170},
      {"mass":69.9,"total":245},{"mass":70.4,"total":238},{"mass":70.9,"total":232},{"mass":70.2,"total":226},{"mass":71.3,"total":220},{"mass":69.9,"total":215},{"mass":70.4,"total":210},{"mass":70.9,"total":205},{"mass":70.2,"total":200},{"mass":71.3,"total":196},{"mass":69.9,"total":192},{"mass":70.4,"total":188},{"mass":70.9,"total":184},{"mass":70.2,"total":180},{"mass":71.3,"total":176},{"mass":69.9,"total":172},{"mass":70.4,"total":168},{"mass":70.9,"total":160},{"mass":70.2,"total":150},
      {"mass":73.8,"total":265},{"mass":74.3,"total":260},{"mass":74.8,"total":255},{"mass":74.0,"total":250},{"mass":74.6,"total":246},{"mass":75.2,"total":242},{"mass":73.8,"total":240},{"mass":74.3,"total":238},{"mass":74.8,"total":235},{"mass":74.0,"total":232},{"mass":74.6,"total":229},{"mass":75.2,"total":228},{"mass":73.8,"total":226},{"mass":74.3,"total":223},{"mass":74.8,"total":220},{"mass":74.0,"total":217},{"mass":74.6,"total":215},{"mass":75.2,"total":214},{"mass":73.8,"total":211},{"mass":74.3,"total":208},{"mass":74.8,"total":205},{"mass":74.0,"total":201},{"mass":74.6,"total":197},{"mass":75.2,"total":192},{"mass":73.8,"total":187},{"mass":74.3,"total":182},{"mass":74.8,"total":176},{"mass":74.0,"total":170},{"mass":74.6,"total":160},{"mass":75.2,"total":152},
      {"mass":74.4,"total":242},{"mass":74.7,"total":236},{"mass":74.4,"total":231},{"mass":74.7,"total":225},{"mass":74.4,"total":219},{"mass":74.7,"total":213},{"mass":74.4,"total":207},
      {"mass":78.6,"total":282},{"mass":79.3,"total":275},{"mass":80.0,"total":268},{"mass":80.7,"total":262},{"mass":81.4,"total":256},{"mass":79.0,"total":250},{"mass":81.8,"total":245},{"mass":78.6,"total":240},{"mass":79.3,"total":235},{"mass":80.0,"total":230},{"mass":80.7,"total":225},{"mass":81.4,"total":220},{"mass":79.0,"total":215},{"mass":81.8,"total":210},{"mass":78.6,"total":205},{"mass":79.3,"total":198},{"mass":80.0,"total":190},{"mass":80.7,"total":180},{"mass":81.4,"total":170},
      {"mass":85.8,"total":261},{"mass":86.3,"total":256},{"mass":86.8,"total":251},{"mass":86.1,"total":247},{"mass":87.2,"total":243},{"mass":85.8,"total":240},{"mass":86.3,"total":237},{"mass":86.8,"total":234},{"mass":86.1,"total":231},{"mass":87.2,"total":228},{"mass":85.8,"total":225},{"mass":86.3,"total":222},{"mass":86.8,"total":219},{"mass":86.1,"total":216},{"mass":87.2,"total":213},{"mass":85.8,"total":208},{"mass":86.3,"total":202},{"mass":86.8,"total":195},{"mass":86.1,"total":188},
      {"mass":86.2,"total":240},{"mass":86.6,"total":235},{"mass":86.2,"total":230},{"mass":86.6,"total":225},{"mass":86.2,"total":220},{"mass":86.6,"total":215},
      {"mass":90.2,"total":255},{"mass":91.0,"total":245},{"mass":91.8,"total":238},{"mass":90.6,"total":230},{"mass":92.2,"total":222},{"mass":90.2,"total":215},{"mass":91.0,"total":205},{"mass":91.8,"total":195},{"mass":90.6,"total":185},{"mass":92.2,"total":175},
      {"mass":56.2,"total":215},{"mass":56.0,"total":200},{"mass":56.4,"total":185},{"mass":56.1,"total":170},{"mass":59.8,"total":225},{"mass":60.2,"total":210},{"mass":60.0,"total":195},{"mass":60.5,"total":180},{"mass":59.6,"total":160},{"mass":64.8,"total":230},{"mass":65.0,"total":215},{"mass":64.6,"total":200},{"mass":65.2,"total":185},{"mass":64.9,"total":170},{"mass":69.0,"total":230},{"mass":69.2,"total":215},{"mass":68.8,"total":195},{"mass":69.4,"total":185},{"mass":72.0,"total":240},{"mass":72.2,"total":225},{"mass":71.8,"total":210},{"mass":72.4,"total":195},{"mass":72.1,"total":180},{"mass":76.8,"total":245},{"mass":77.0,"total":230},{"mass":77.2,"total":215},{"mass":76.6,"total":200},{"mass":83.0,"total":245},{"mass":83.4,"total":235},{"mass":82.6,"total":225},{"mass":88.9,"total":250},{"mass":89.2,"total":235},{"mass":88.6,"total":215},
      {"mass":43.9,"total":125},{"mass":44.7,"total":120},{"mass":47.6,"total":111},{"mass":49.4,"total":116},{"mass":51.9,"total":120},{"mass":52.3,"total":111},{"mass":55.2,"total":120},{"mass":57.0,"total":129},{"mass":59.9,"total":116},{"mass":61.8,"total":130},{"mass":62.5,"total":130},{"mass":67.6,"total":130},{"mass":70.2,"total":116},{"mass":72.7,"total":120},{"mass":73.4,"total":125},{"mass":73.6,"total":112},{"mass":73.8,"total":106},{"mass":73.1,"total":119},{"mass":68.3,"total":135},{"mass":69.6,"total":143},{"mass":60.3,"total":137},{"mass":50.1,"total":140},{"mass":51.2,"total":138},{"mass":46.1,"total":129},{"mass":80.4,"total":158},{"mass":79.1,"total":166},{"mass":77.4,"total":176},{"mass":76.3,"total":167},{"mass":74.5,"total":156},{"mass":75.6,"total":154},{"mass":76.3,"total":151},{"mass":71.1,"total":162},{"mass":71.2,"total":156},{"mass":68.0,"total":166},{"mass":65.4,"total":162},{"mass":64.7,"total":151},{"mass":63.0,"total":152},{"mass":61.4,"total":149},{"mass":82.9,"total":172},{"mass":84.4,"total":165},{"mass":85.8,"total":172},{"mass":86.2,"total":176},{"mass":87.6,"total":177},{"mass":88.7,"total":187},{"mass":89.5,"total":172},{"mass":90.6,"total":172},{"mass":92.7,"total":170},{"mass":93.1,"total":167},{"mass":94.4,"total":180},{"mass":88.4,"total":179},{"mass":83.3,"total":172},{"mass":81.5,"total":171},{"mass":79.6,"total":171},{"mass":77.8,"total":176},{"mass":74.2,"total":172},{"mass":93.8,"total":208},{"mass":93.1,"total":221},{"mass":90.9,"total":217},{"mass":89.5,"total":221},{"mass":88.0,"total":221},{"mass":88.7,"total":205},{"mass":89.5,"total":197},{"mass":86.5,"total":203},{"mass":84.0,"total":193},{"mass":84.4,"total":184},{"mass":82.9,"total":191},{"mass":82.2,"total":187},{"mass":79.3,"total":186},{"mass":77.8,"total":191},{"mass":77.1,"total":186},{"mass":75.6,"total":191},{"mass":74.2,"total":185},{"mass":73.1,"total":193},{"mass":72.0,"total":196},{"mass":70.5,"total":179},{"mass":69.1,"total":170},{"mass":66.9,"total":191},{"mass":65.8,"total":198},{"mass":65.1,"total":184},{"mass":66.1,"total":177},{"mass":82.9,"total":217},{"mass":84.7,"total":210},{"mass":81.1,"total":207},{"mass":78.2,"total":206},{"mass":81.5,"total":224},{"mass":83.3,"total":228},{"mass":84.0,"total":234},{"mass":85.5,"total":239},{"mass":81.1,"total":234},{"mass":78.5,"total":238},{"mass":77.1,"total":235},{"mass":76.0,"total":228},
      {"mass":97.7,"total":110},{"mass":98.6,"total":172},{"mass":100.8,"total":182},{"mass":106.5,"total":182},{"mass":108.5,"total":180},{"mass":104.3,"total":176},{"mass":111.7,"total":180},{"mass":113.3,"total":188},{"mass":114.1,"total":178},{"mass":113.1,"total":207},{"mass":115.0,"total":188},{"mass":113.7,"total":233},{"mass":112.0,"total":237},{"mass":110.3,"total":245},{"mass":115.2,"total":248},{"mass":111.1,"total":222},{"mass":118.5,"total":224},{"mass":120.2,"total":250},{"mass":121.5,"total":235},{"mass":120.7,"total":186},{"mass":122.7,"total":186},{"mass":121.6,"total":222},{"mass":126.2,"total":222},{"mass":128.2,"total":207},{"mass":129.5,"total":191},{"mass":130.6,"total":193},{"mass":128.4,"total":245},{"mass":132.2,"total":243},{"mass":135.3,"total":243},{"mass":128.9,"total":271},{"mass":132.2,"total":266},{"mass":127.3,"total":264},{"mass":125.6,"total":276},{"mass":124.6,"total":264},{"mass":123.3,"total":258},{"mass":126.2,"total":283},{"mass":131.1,"total":283},{"mass":133.9,"total":283},{"mass":139.9,"total":273},{"mass":141.5,"total":233},{"mass":142.6,"total":237},{"mass":144.3,"total":226},{"mass":147.0,"total":267},{"mass":139.9,"total":285},{"mass":152.5,"total":335},{"mass":154.1,"total":331},{"mass":154.1,"total":243},{"mass":149.7,"total":318},{"mass":143.7,"total":305},{"mass":120.8,"total":328},{"mass":121.3,"total":325},{"mass":150.7,"total":335},{"mass":149.0,"total":333},{"mass":113.2,"total":299},{"mass":139.6,"total":273},{"mass":130.9,"total":283},{"mass":124.7,"total":283},{"mass":126.4,"total":275},{"mass":118.7,"total":280},{"mass":112.6,"total":281},{"mass":114.4,"total":277},
      {"mass":80.7,"total":203},{"mass":83.5,"total":216},{"mass":85.7,"total":195},{"mass":87.9,"total":191},{"mass":89.0,"total":178},{"mass":90.1,"total":195},{"mass":92.2,"total":207},{"mass":94.4,"total":191},{"mass":93.3,"total":169},{"mass":88.4,"total":224},{"mass":84.6,"total":233},{"mass":86.8,"total":250},{"mass":90.1,"total":241},{"mass":94.4,"total":237},{"mass":96.6,"total":233},{"mass":98.8,"total":220},{"mass":79.1,"total":191},{"mass":77.5,"total":199},{"mass":75.8,"total":178},{"mass":74.2,"total":161},{"mass":73.6,"total":125},{"mass":80.2,"total":163},{"mass":81.3,"total":176},{"mass":97.7,"total":174},{"mass":98.3,"total":182},{"mass":99.4,"total":207},{"mass":100.5,"total":214},{"mass":102.1,"total":237},{"mass":103.2,"total":229},{"mass":104.3,"total":233},{"mass":107.6,"total":241},{"mass":99.4,"total":254},{"mass":101.0,"total":260},{"mass":102.7,"total":252},{"mass":106.5,"total":262},{"mass":109.2,"total":267},{"mass":109.5,"total":258},{"mass":112.0,"total":256},{"mass":112.5,"total":260},{"mass":114.7,"total":275},{"mass":116.3,"total":275},{"mass":118.5,"total":274},{"mass":112.5,"total":283},{"mass":113.9,"total":281},{"mass":113.6,"total":300},{"mass":117.4,"total":309},{"mass":118.0,"total":277},{"mass":121.8,"total":254},{"mass":94.4,"total":203},{"mass":95.0,"total":191}
    ],
    "curves": [
      {"sex":"M","mass":53.7,"mean":258.6,"lo":234.2,"hi":281.8},
      {"sex":"M","mass":56,"mean":273,"lo":249,"hi":296},
      {"sex":"M","mass":58,"mean":284,"lo":259.5,"hi":307},
      {"sex":"M","mass":60,"mean":294.5,"lo":269,"hi":316},
      {"sex":"M","mass":62,"mean":304,"lo":278,"hi":324},
      {"sex":"M","mass":65,"mean":316,"lo":290.5,"hi":334},
      {"sex":"M","mass":68,"mean":326,"lo":302,"hi":343},
      {"sex":"M","mass":71,"mean":335,"lo":312.5,"hi":352},
      {"sex":"M","mass":75,"mean":345.5,"lo":324.5,"hi":362},
      {"sex":"M","mass":80,"mean":357.5,"lo":337,"hi":374},
      {"sex":"M","mass":85,"mean":367,"lo":347.5,"hi":384.5},
      {"sex":"M","mass":91,"mean":377,"lo":357.5,"hi":396},
      {"sex":"M","mass":100,"mean":389,"lo":369.5,"hi":409.5},
      {"sex":"M","mass":108.2,"mean":398.5,"lo":379,"hi":421.5},
      {"sex":"M","mass":120,"mean":410.5,"lo":389.5,"hi":436},
      {"sex":"M","mass":130.4,"mean":420,"lo":398.7,"hi":448.9},
      {"sex":"M","mass":142,"mean":430.2,"lo":408.5,"hi":461.5},
      {"sex":"M","mass":154.7,"mean":441,"lo":418.5,"hi":474.8},
      {"sex":"M","mass":165,"mean":449.8,"lo":426.5,"hi":487.5},
      {"sex":"M","mass":173.6,"mean":457.2,"lo":432.8,"hi":499.3},
      {"sex":"M","mass":177.9,"mean":460.8,"lo":435.8,"hi":null},
      {"sex":"F","mass":42.1,"mean":162.7,"lo":131.5,"hi":193.8},
      {"sex":"F","mass":45,"mean":175,"lo":145,"hi":204},
      {"sex":"F","mass":48.3,"mean":186.2,"lo":158,"hi":214.3},
      {"sex":"F","mass":51,"mean":194,"lo":167,"hi":222},
      {"sex":"F","mass":54.5,"mean":203.8,"lo":178,"hi":231.5},
      {"sex":"F","mass":58,"mean":212,"lo":188,"hi":240},
      {"sex":"F","mass":61,"mean":219,"lo":194.5,"hi":247.2},
      {"sex":"F","mass":65,"mean":226,"lo":202,"hi":254},
      {"sex":"F","mass":70.1,"mean":234.2,"lo":210,"hi":263},
      {"sex":"F","mass":75,"mean":241,"lo":216,"hi":270},
      {"sex":"F","mass":79.3,"mean":246.5,"lo":220.5,"hi":276.5},
      {"sex":"F","mass":85,"mean":252.5,"lo":226,"hi":283},
      {"sex":"F","mass":90.2,"mean":257.5,"lo":230,"hi":289.3},
      {"sex":"F","mass":96.3,"mean":262.5,"lo":234.2,"hi":296},
      {"sex":"F","mass":108.2,"mean":271.3,"lo":240.5,"hi":307.9},
      {"sex":"F","mass":120,"mean":279.5,"lo":247,"hi":319},
      {"sex":"F","mass":128.9,"mean":285.8,"lo":251.5,"hi":330},
      {"sex":"F","mass":140,"mean":294,"lo":256.5,"hi":344},
      {"sex":"F","mass":154,"mean":304.2,"lo":262.2,"hi":362.5}
    ]
  },
  "encoding": {
    "x": {
      "field": "mass",
      "type": "quantitative",
      "title": "Body mass [kg]",
      "scale": {"domain": [33, 187], "nice": false, "zero": false},
      "axis": {
        "values": [40, 60, 80, 100, 120, 140, 160, 180],
        "labelExpr": "datum.value % 40 === 0 ? datum.label : ''",
        "labelPadding": 16,
        "titlePadding": 14,
        "gridWidth": {"condition": {"test": "datum.value % 40 === 0", "value": 6}, "value": 3},
        "tickOpacity": {"condition": {"test": "datum.value % 40 === 0", "value": 1}, "value": 0}
      }
    }
  },
  "layer": [
    {
      "data": {"name": "women"},
      "mark": {"type": "circle", "size": 1225, "fill": "#3C6E1E", "stroke": "#3C6E1E", "fillOpacity": 0.22, "strokeOpacity": 0.22, "strokeWidth": 5},
      "encoding": {
        "y": {
          "field": "total",
          "type": "quantitative",
          "title": "Total [kg]",
          "scale": {"domain": [80, 520], "nice": false, "zero": false},
          "axis": {
            "values": [100, 150, 200, 250, 300, 350, 400, 450, 500],
            "labelExpr": "datum.value % 100 === 0 ? datum.label : ''",
            "labelPadding": 20,
            "titlePadding": 22,
            "gridWidth": {"condition": {"test": "datum.value % 100 === 0", "value": 6}, "value": 3},
            "tickOpacity": {"condition": {"test": "datum.value % 100 === 0", "value": 1}, "value": 0}
          }
        }
      }
    },
    {
      "data": {"name": "men"},
      "mark": {"type": "circle", "size": 1225, "fill": "#00008B", "stroke": "#00008B", "fillOpacity": 0.22, "strokeOpacity": 0.22, "strokeWidth": 5},
      "encoding": {"y": {"field": "total", "type": "quantitative"}}
    },
    {
      "data": {"name": "curves"},
      "mark": {"type": "line", "strokeWidth": 14, "interpolate": "monotone"},
      "encoding": {
        "y": {"field": "mean", "type": "quantitative"},
        "color": {"field": "sex", "type": "nominal", "scale": {"domain": ["F", "M"], "range": ["#4C7D2A", "#0000FF"]}, "legend": null}
      }
    },
    {
      "data": {"name": "curves"},
      "transform": [{"filter": "isValid(datum.hi)"}],
      "mark": {"type": "area", "opacity": 0.2, "interpolate": "monotone"},
      "encoding": {
        "y": {"field": "lo", "type": "quantitative"},
        "y2": {"field": "hi"},
        "color": {"field": "sex", "type": "nominal", "scale": {"domain": ["F", "M"], "range": ["#91DC6E", "#9FC5E0"]}, "legend": null}
      }
    },
    {
      "data": {"name": "curves"},
      "mark": {"type": "line", "strokeWidth": 7, "strokeDash": [46, 30], "interpolate": "monotone"},
      "encoding": {
        "y": {"field": "lo", "type": "quantitative"},
        "color": {"field": "sex", "type": "nominal", "scale": {"domain": ["F", "M"], "range": ["#3D6B1E", "#0000FF"]}, "legend": null}
      }
    },
    {
      "data": {"name": "curves"},
      "transform": [{"filter": "isValid(datum.hi)"}],
      "mark": {"type": "line", "strokeWidth": 7, "strokeDash": [46, 30], "interpolate": "monotone"},
      "encoding": {
        "y": {"field": "hi", "type": "quantitative"},
        "color": {"field": "sex", "type": "nominal", "scale": {"domain": ["F", "M"], "range": ["#3D6B1E", "#0000FF"]}, "legend": null}
      }
    }
  ],
  "resolve": {"scale": {"color": "independent"}}
}
